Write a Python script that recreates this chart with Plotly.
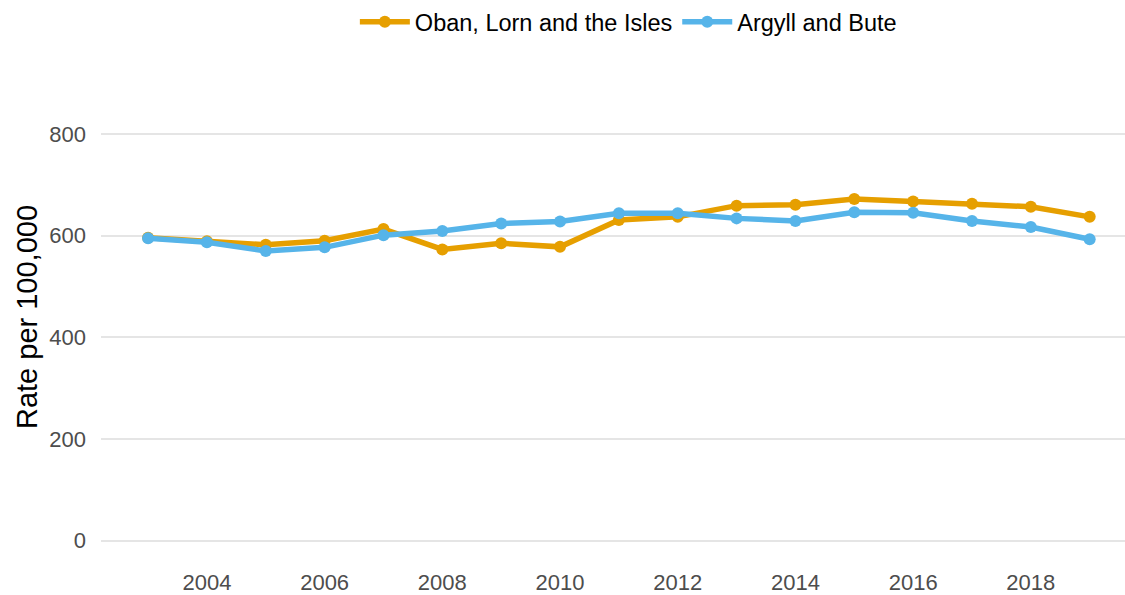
import plotly.graph_objects as go

years = list(range(2003, 2020))
oban = [596, 589, 582, 590, 613, 573, 585, 578, 631, 637, 659, 661, 672, 667, 663, 657, 637]
argyll = [595, 587, 570, 577, 601, 609, 624, 628, 644, 644, 634, 629, 646, 645, 629, 617, 593]
series_names = ["Oban, Lorn and the Isles", "Argyll and Bute"]
colors = ["#E69F00", "#56B4E9"]
y_ticks = [0, 200, 400, 600, 800]
x_ticks = [2004, 2006, 2008, 2010, 2012, 2014, 2016, 2018]

fig = go.Figure()
for name, vals, col in zip(series_names, [oban, argyll], colors):
    fig.add_trace(go.Scatter(
        x=years, y=vals, name=name, mode="lines+markers",
        line=dict(color=col, width=5.5),
        marker=dict(color=col, size=12),
    ))

fig.update_layout(
    width=1125, height=595,
    paper_bgcolor="white", plot_bgcolor="white",
    margin=dict(l=101, r=0, t=73, b=34, autoexpand=False),
    font=dict(family="Liberation Sans, Arial, sans-serif"),
    legend=dict(orientation="h", x=0.515, xanchor="center", y=1.0, yanchor="top",
                yref="container", font=dict(size=23.5, color="black"),
                itemwidth=50, tracegroupgap=0),
    xaxis=dict(range=[2002.2, 2019.6], tickvals=x_ticks, showgrid=False,
               zeroline=False, showline=False, ticks="", ticklabelstandoff=6,
               tickfont=dict(size=22, color="#4d4d4d")),
    yaxis=dict(range=[-40, 920], tickvals=y_ticks, showgrid=True,
               gridcolor="#e5e5e5", gridwidth=2, zeroline=False, showline=False,
               ticks="", ticklabelstandoff=14, tickfont=dict(size=22, color="#4d4d4d"),
               title=dict(text="Rate per 100,000", font=dict(size=29, color="black"), standoff=3)),
)
fig.write_html("out.html", config={"displayModeBar": False},
               post_script="document.body.style.margin='0';")
